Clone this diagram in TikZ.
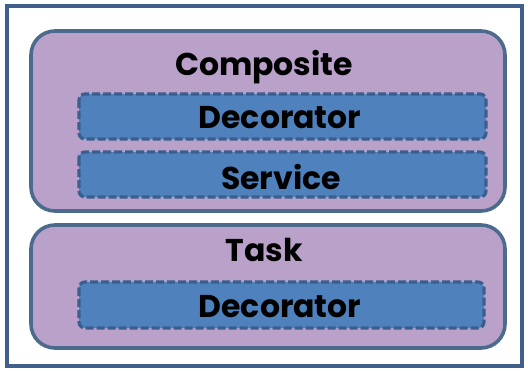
\documentclass[tikz,border=0pt]{standalone}
\usepackage{fontspec}
\setmainfont{Poppins}
\definecolor{frameblue}{HTML}{3F5F8C}
\definecolor{lavender}{HTML}{B9A1C9}
\definecolor{boxedge}{HTML}{4C6A8C}
\definecolor{innerblue}{HTML}{4F81BD}
\definecolor{inneredge}{HTML}{3A5F8F}
\tikzset{
  x=1pt, y=-1pt,
  group/.style={draw=boxedge, line width=3.6pt, fill=lavender, rounded corners=24pt},
  part/.style={draw=inneredge, line width=3.2pt, fill=innerblue, dash pattern=on 8pt off 3pt, rounded corners=6pt},
  lbl/.style={font=\bfseries\fontsize{31.5}{34}\selectfont, text=black, inner sep=0pt}
}
\begin{document}
\begin{tikzpicture}
  \useasboundingbox (0,0) rectangle (528,370);
  \fill[white] (0,0) rectangle (528,370);
  % outer frame
  \draw[frameblue, line width=3.5pt] (7,6) rectangle (522,366);
  % Composite group
  \draw[group] (31,31) rectangle (505,211);
  \node[lbl] (comp) at (264,67) {Composite};
  \draw[part] (79,94) rectangle (486,139);
  \node[lbl] (dec1) at (280,118) {Decorator};
  \draw[part] (79,152) rectangle (486,197);
  \node[lbl] (serv) at (281,177) {Service};
  % Task group
  \draw[group] (31,225) rectangle (505,348);
  \node[lbl] (task) at (264,250) {Task};
  \draw[part] (79,282) rectangle (484,328);
  \node[lbl] (dec2) at (280,307) {Decorator};
\end{tikzpicture}
\end{document}
